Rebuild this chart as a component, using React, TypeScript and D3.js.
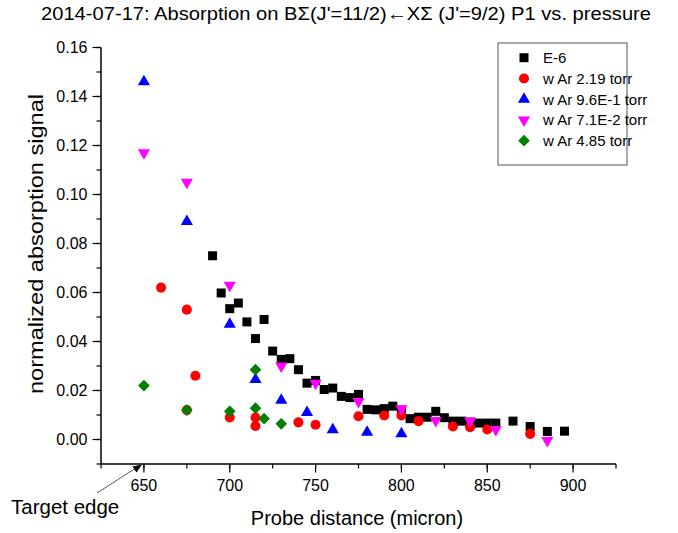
import React from "react";
import * as d3 from "d3";

// ---- data ----
const e6X = [690, 695, 700, 705, 710, 715, 720, 725, 730, 735, 740, 745, 750, 755, 760, 765, 770, 775, 780, 785, 790, 795, 800, 805, 810, 815, 820, 825, 830, 835, 840, 845, 850, 855, 865, 875, 885, 895];
const e6Y = [0.075, 0.0598, 0.0534, 0.0557, 0.048, 0.0412, 0.049, 0.0361, 0.0327, 0.033, 0.0285, 0.023, 0.0241, 0.0204, 0.021, 0.0176, 0.0171, 0.0184, 0.0123, 0.0121, 0.0126, 0.0136, 0.012, 0.0085, 0.0091, 0.0091, 0.0115, 0.0089, 0.0075, 0.0075, 0.0071, 0.0067, 0.0067, 0.0067, 0.0075, 0.0053, 0.0033, 0.0034];

const ar219X = [660, 675, 675, 680, 700, 715, 715, 740, 750, 775, 790, 800, 810, 830, 840, 850, 875];
const ar219Y = [0.062, 0.053, 0.012, 0.026, 0.009, 0.009, 0.0055, 0.007, 0.006, 0.0095, 0.0098, 0.0098, 0.0075, 0.0053, 0.005, 0.0041, 0.0023];

const ar96X = [650, 675, 700, 715, 730, 745, 760, 780, 800];
const ar96Y = [0.146, 0.089, 0.047, 0.0245, 0.016, 0.011, 0.004, 0.003, 0.0023];

const ar71X = [650, 675, 700, 730, 750, 775, 800, 820, 840, 855, 885];
const ar71Y = [0.117, 0.105, 0.063, 0.030, 0.023, 0.0155, 0.0125, 0.0078, 0.0075, 0.0041, -0.0004];

const ar485X = [650, 675, 700, 715, 715, 720, 730];
const ar485Y = [0.022, 0.012, 0.0115, 0.0285, 0.0128, 0.0085, 0.0064];

const seriesNames = ["E-6", "w Ar 2.19 torr", "w Ar 9.6E-1 torr", "w Ar 7.1E-2 torr", "w Ar 4.85 torr"];
const xTicks = [650, 700, 750, 800, 850, 900];
const yTicks = [0, 0.02, 0.04, 0.06, 0.08, 0.1, 0.12, 0.14, 0.16];

const titleText = "2014-07-17: Absorption on B\u03A3(J'=11/2)\u2190X\u03A3 (J'=9/2) P1 vs. pressure";
const xLabel = "Probe distance (micron)";
const yLabel = "normalized absorption signal";
const noteText = "Target edge";

// ---- layout ----
const W = 678, H = 533;
const left = 101, right = 616, top = 47.5, bottom = 464;
const FONT = "'Liberation Sans', Arial, sans-serif";

const x = d3.scaleLinear().domain([625, 925]).range([left, right]);
const y = d3.scaleLinear().domain([-0.01, 0.16]).range([bottom, top]);

const sq = d3.symbol().type(d3.symbolSquare).size(81)();
const circ = d3.symbol().type(d3.symbolCircle).size(80)();
const tri = d3.symbol().type(d3.symbolTriangle).size(64)();
const diam = d3.symbol().type(d3.symbolSquare).size(68)();

const styles = [
  { path: sq, color: "#000000", rot: 0 },
  { path: circ, color: "#ff0000", rot: 0 },
  { path: tri, color: "#0000ff", rot: 0 },
  { path: tri, color: "#ff00ff", rot: 180 },
  { path: diam, color: "#008000", rot: 45 },
];

const seriesX = [e6X, ar219X, ar96X, ar71X, ar485X];
const seriesY = [e6Y, ar219Y, ar96Y, ar71Y, ar485Y];

export default function App() {
  const minorX = d3.range(625, 926, 25);
  const minorY = d3.range(-0.01, 0.1601, 0.01);
  const legX = 498, legY = 43, legW = 129, legH = 122;
  return (
    <svg width={W} height={H} style={{ position: "absolute", left: 0, top: 0, background: "#fff" }} fontFamily={FONT}>
      <rect x={0} y={0} width={W} height={H} fill="#fff" />
      <text x={346} y={20} textAnchor="middle" fontSize={18.5}
        textLength={610} lengthAdjust="spacingAndGlyphs">{titleText}</text>

      {/* axes */}
      <line x1={left} x2={left} y1={top} y2={bottom} stroke="#000" strokeWidth={1.5} />
      <line x1={left} x2={right} y1={bottom} y2={bottom} stroke="#000" strokeWidth={1.5} />
      {minorY.map((v, i) => (
        <line key={"my" + i} x1={left - 4.5} x2={left} y1={y(v)} y2={y(v)} stroke="#000" strokeWidth={1.2} />
      ))}
      {yTicks.map((v) => (
        <g key={"y" + v}>
          <line x1={left - 8.5} x2={left} y1={y(v)} y2={y(v)} stroke="#000" strokeWidth={1.2} />
          <text x={87.5} y={y(v)} dy="0.36em" textAnchor="end" fontSize={16}>{v.toFixed(2)}</text>
        </g>
      ))}
      {minorX.map((v) => (
        <line key={"mx" + v} x1={x(v)} x2={x(v)} y1={bottom} y2={bottom + 4.5} stroke="#000" strokeWidth={1.2} />
      ))}
      {xTicks.map((v) => (
        <g key={"x" + v}>
          <line x1={x(v)} x2={x(v)} y1={bottom} y2={bottom + 8.5} stroke="#000" strokeWidth={1.2} />
          <text x={x(v)} y={491} textAnchor="middle" fontSize={16}>{v}</text>
        </g>
      ))}
      <text x={357} y={525} textAnchor="middle" fontSize={20}>{xLabel}</text>
      <text transform={`translate(43,244) rotate(-90)`} textAnchor="middle" fontSize={20}
        textLength={300} lengthAdjust="spacingAndGlyphs">{yLabel}</text>

      {/* annotation */}
      <text x={11} y={514} fontSize={20.5}>{noteText}</text>
      <line x1={97} y1={493} x2={136} y2={468} stroke="#555" strokeWidth={1} />
      <path d="M142,464.5 L132.5,466.5 L136.5,472.5 Z" fill="#000" />

      {/* data */}
      {seriesX.map((xs, si) => (
        <g key={"s" + si}>
          {xs.map((xv, i) => (
            <path key={i} d={styles[si].path} fill={styles[si].color}
              transform={`translate(${x(xv)},${y(seriesY[si][i])}) rotate(${styles[si].rot})`} />
          ))}
        </g>
      ))}

      {/* legend */}
      <rect x={legX} y={legY} width={legW} height={legH} fill="#fff" stroke="#555" strokeWidth={1} />
      {seriesNames.map((n, i) => {
        const cy = 57.7 + i * 20.75;
        return (
          <g key={n}>
            <path d={styles[i].path} fill={styles[i].color} transform={`translate(524,${cy}) rotate(${styles[i].rot})`} />
            <text x={543} y={cy} dy="0.36em" fontSize={15}>{n}</text>
          </g>
        );
      })}
    </svg>
  );
}
